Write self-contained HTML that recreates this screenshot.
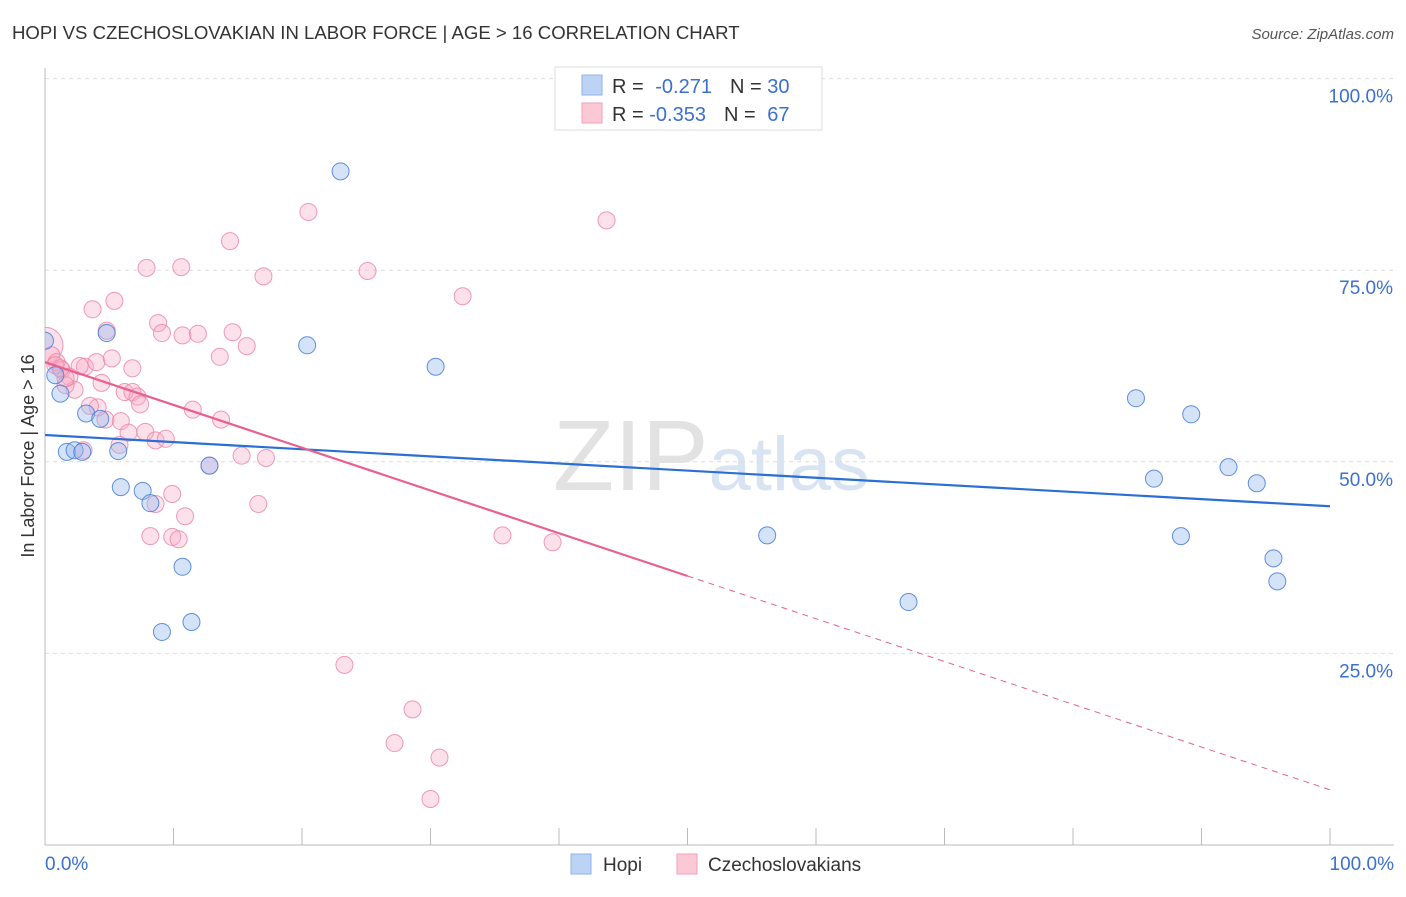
<!DOCTYPE html>
<html><head><meta charset="utf-8"><style>
body{margin:0;background:#fff;font-family:"Liberation Sans",sans-serif;}
svg text{font-family:"Liberation Sans",sans-serif;}
</style></head><body>
<svg id="chart" width="1406" height="892" xmlns="http://www.w3.org/2000/svg">
<defs><clipPath id="plotclip"><rect x="45" y="60" width="1360" height="786"/></clipPath></defs>
<text x="12" y="39" font-size="18.6" fill="#333">HOPI VS CZECHOSLOVAKIAN IN LABOR FORCE | AGE &gt; 16 CORRELATION CHART</text>
<text x="1394" y="39" font-size="15" fill="#555" text-anchor="end" font-style="italic">Source: ZipAtlas.com</text>
<text x="553" y="490" font-size="100" fill="#e2e2e2" font-family="Liberation Serif">ZIP<tspan fill="#d8e4f2" font-family="Liberation Sans" font-size="76">atlas</tspan></text>
<g id="grid"></g>
<g id="axes"></g>
<g id="marks" clip-path="url(#plotclip)"></g>
<g>
<rect x="555" y="67" width="267" height="63" fill="#fff" stroke="#ddd"/>
<rect x="582" y="75" width="20" height="20" fill="#bcd3f5" stroke="#8fb1e8"/>
<rect x="582" y="103" width="20" height="20" fill="#fbc8d6" stroke="#f0a0b8"/>
<text x="612" y="93" font-size="20" fill="#333">R = <tspan fill="#3b6fd0" dx="6">-0.271</tspan><tspan dx="18" fill="#333">N = </tspan><tspan fill="#3b6fd0">30</tspan></text>
<text x="612" y="121" font-size="20" fill="#333">R = <tspan fill="#3b6fd0">-0.353</tspan><tspan dx="18" fill="#333">N = </tspan><tspan fill="#3b6fd0" dx="6">67</tspan></text>
</g>
<g>
<rect x="571" y="854" width="20" height="20" fill="#bcd3f5" stroke="#8fb1e8"/>
<text x="603" y="871" font-size="19" fill="#333">Hopi</text>
<rect x="677" y="854" width="20" height="20" fill="#fbc8d6" stroke="#f0a0b8"/>
<text x="708" y="871" font-size="19" fill="#333">Czechoslovakians</text>
</g>
<text transform="translate(34,456) rotate(-90)" font-size="18" fill="#333" text-anchor="middle">In Labor Force | Age &gt; 16</text>
</svg>
<script>
const yTicks=[25,50,75,100];
const yTickLabels=["25.0%","50.0%","75.0%","100.0%"];
const hopiX=[0,0.8,1.2,3.2,4.3,1.7,2.3,2.9,5.7,4.8,5.9,7.6,8.2,10.7,9.1,11.4,12.8,23.0,20.4,30.4,56.2,67.2,84.9,89.2,86.3,92.1,94.3,88.4,95.6,95.9];
const hopiY=[65.8,61.3,58.9,56.3,55.6,51.3,51.5,51.3,51.4,66.8,46.7,46.2,44.6,36.3,27.8,29.1,49.5,87.9,65.2,62.4,40.4,31.7,58.3,56.2,47.8,49.3,47.2,40.3,37.4,34.4];
const czX=[0,0.5,0.9,1.3,0.8,1.9,2.3,1.6,3.1,4.0,3.0,3.7,5.4,4.8,5.2,4.4,4.1,4.7,5.9,6.8,6.2,6.8,7.2,7.4,6.5,7.8,8.6,9.4,5.8,7.9,10.6,8.8,9.1,10.7,11.9,11.5,13.6,13.7,14.4,14.6,15.7,17.0,20.5,25.1,32.5,43.7,15.3,17.2,12.8,16.6,10.9,9.9,8.6,8.2,9.9,10.4,35.6,39.5,23.3,28.6,27.2,30.7,30.0,1.6,3.5,1.2,2.7];
const czY=[65.2,63.9,63.0,62.0,62.6,61.1,59.4,60.0,62.4,63.0,51.5,69.9,71.0,67.1,63.5,60.3,57.1,55.5,55.3,62.2,59.1,59.1,58.5,57.5,53.8,53.9,52.8,53.0,52.2,75.3,75.4,68.1,66.8,66.5,66.7,56.8,63.7,55.5,78.8,66.9,65.1,74.2,82.6,74.9,71.6,81.5,50.8,50.5,49.5,44.5,42.9,45.8,44.5,40.3,40.2,39.9,40.4,39.5,23.5,17.7,13.3,11.4,6.0,60.9,57.3,62.2,62.5];
const hopiTrend=[53.5,44.2];
const czTrend=[63.0,7.2];
const czSolidEnd=50;
const NS="http://www.w3.org/2000/svg";
const sx=v=>45+v*12.85, sy=v=>845-v*7.664;
function mk(tag,attrs,parent){const e=document.createElementNS(NS,tag);for(const k in attrs)e.setAttribute(k,attrs[k]);parent.appendChild(e);return e;}
const grid=document.getElementById('grid'),axes=document.getElementById('axes'),marks=document.getElementById('marks');
yTicks.forEach((t,i)=>{
 const l=mk('line',{x1:45,x2:1394,y1:sy(t),y2:sy(t),stroke:'#ddd','stroke-dasharray':'4,4'},grid);
 
 
 const tx=mk('text',{x:1393,y:sy(t)+24,'font-size':19,fill:'#3b6fd0','text-anchor':'end'},axes);
 tx.textContent=yTickLabels[i];
 
 
});
const xa=mk('line',{x1:45,x2:1394,y1:845,y2:845,stroke:'#bbb'},axes);


const ya=mk('line',{x1:45,x2:45,y1:68,y2:845,stroke:'#bbb'},axes);


for(let i=0;i<=10;i++){const t=mk('line',{x1:sx(i*10),x2:sx(i*10),y1:828,y2:845,stroke:'#bbb'},axes);
 
 }
[[0,'0.0%',45,'start'],[100,'100.0%',1394,'end']].forEach(a=>{const t=mk('text',{x:a[2],y:870,'font-size':19,fill:'#3b6fd0','text-anchor':a[3]},axes);t.textContent=a[1];
 
 });
czX.forEach((x,i)=>{const c=mk('circle',{cx:sx(x),cy:sy(czY[i]),r:i==0?18:8.5,fill:'rgba(248,170,195,0.35)',stroke:'rgba(235,130,165,0.8)','stroke-width':1},marks);
 
 });
hopiX.forEach((x,i)=>{const c=mk('circle',{cx:sx(x),cy:sy(hopiY[i]),r:8.5,fill:'rgba(150,185,240,0.4)',stroke:'rgba(70,125,215,0.85)','stroke-width':1},marks);
 
 });
const czAt=v=>czTrend[0]+(czTrend[1]-czTrend[0])*v/100;
const ht=mk('line',{x1:sx(0),y1:sy(hopiTrend[0]),x2:sx(100),y2:sy(hopiTrend[1]),stroke:'#2b6fd6','stroke-width':2.2},marks);


const ct=mk('line',{x1:sx(0),y1:sy(czAt(0)),x2:sx(czSolidEnd),y2:sy(czAt(czSolidEnd)),stroke:'#e8608e','stroke-width':2.2},marks);


const cd=mk('line',{x1:sx(czSolidEnd),y1:sy(czAt(czSolidEnd)),x2:sx(100),y2:sy(czAt(100)),stroke:'#e8608e','stroke-width':1,'stroke-dasharray':'6,5'},marks);


</script>
</body></html>
